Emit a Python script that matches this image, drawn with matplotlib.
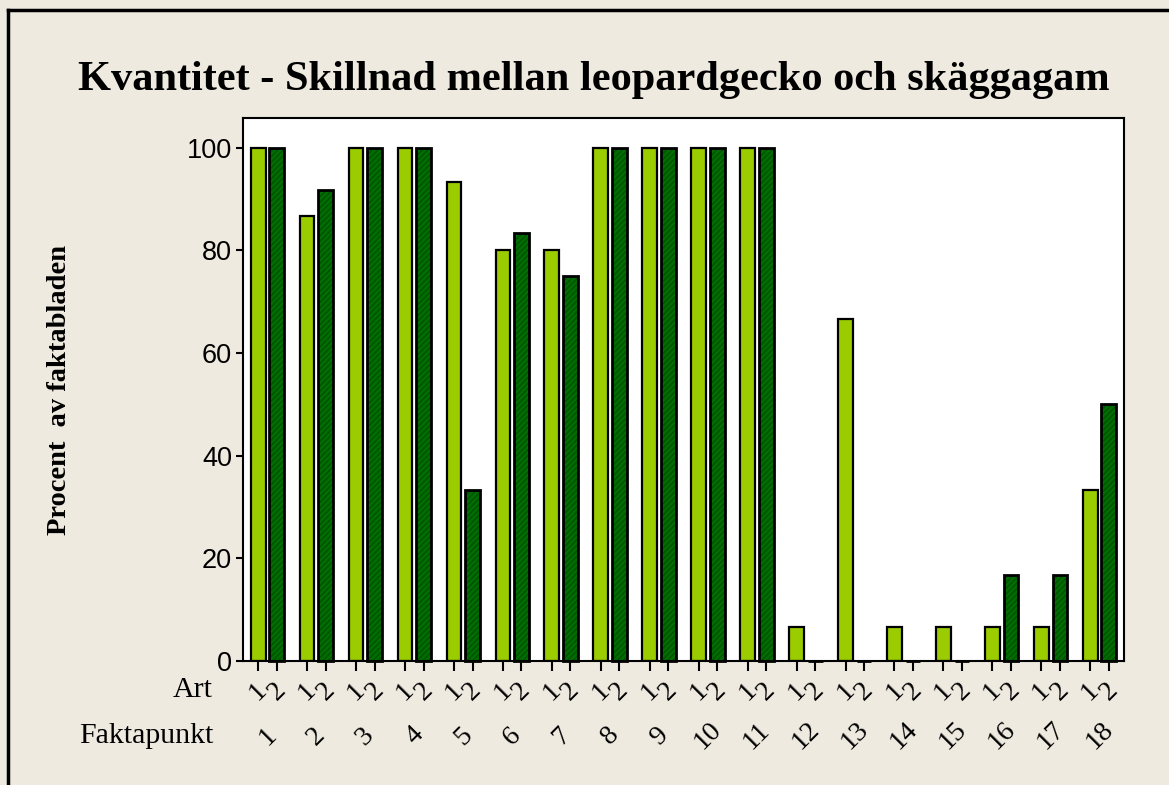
import numpy as np
import matplotlib.pyplot as plt
from matplotlib.lines import Line2D
from matplotlib.transforms import blended_transform_factory

# data
faktapunkt = [str(i) for i in range(1, 19)]
art_labels = ['1', '2']
leopardgecko = [100, 86.7, 100, 100, 93.3, 80, 80, 100, 100, 100, 100, 6.7, 66.7, 6.7, 6.7, 6.7, 6.7, 33.3]
skaggagam = [100, 91.7, 100, 100, 33.3, 83.3, 75, 100, 100, 100, 100, 0, 0, 0, 0, 16.7, 16.7, 50]

W, H = 1169, 785
bg = '#EEEAE0'
light = '#9ACC00'
dark = '#006E00'
serif = ['Liberation Serif', 'DejaVu Serif']
sans = ['Liberation Sans', 'DejaVu Sans']

fig = plt.figure(figsize=(W / 100, H / 100), dpi=100, facecolor=bg)

# plot area in pixel coords
left, right, top, bottom = 243, 1124, 118, 661
ax = fig.add_axes([left / W, 1 - bottom / H, (right - left) / W, (bottom - top) / H])
ax.set_facecolor('white')

x = np.arange(1, len(faktapunkt) + 1)
off = 0.19
bw = 0.3

ax.bar(x - off, leopardgecko, width=bw, color=light, edgecolor='black', linewidth=1.6, zorder=2)
# dark bars with fine texture, then outline (zero bars show as a thick line on the axis)
ax.bar(x + off, skaggagam, width=bw, color=dark, edgecolor='#005200', hatch='//////', linewidth=0, zorder=2)
ax.bar(x + off, skaggagam, width=bw, color='none', edgecolor='black', linewidth=2.0, zorder=3, clip_on=False)

ax.set_xlim(0.5, 18.5)
ax.set_ylim(0, 105.8)

ax.set_yticks([0, 20, 40, 60, 80, 100])
ax.set_yticklabels(['0', '20', '40', '60', '80', '100'], family=sans, fontsize=19.5)
ax.tick_params(axis='y', direction='out', length=5, width=1.5, pad=3)

ticks = np.sort(np.concatenate([x - off, x + off]))
ax.set_xticks(ticks)
ax.set_xticklabels([])
ax.tick_params(axis='x', direction='out', length=7, width=1.5)

for sp in ax.spines.values():
    sp.set_linewidth(1.5)
    sp.set_color('black')


def px_y(py):
    return 1 - py / H


# Art labels (1/2 under each bar) and Faktapunkt numbers
bt = blended_transform_factory(ax.transData, fig.transFigure)
for xi in x:
    for k, lab in enumerate(art_labels):
        xp = xi - off if k == 0 else xi + off
        ax.text(xp, px_y(691), lab, transform=bt, rotation=45, ha='center', va='center',
                rotation_mode='anchor', family=serif, fontsize=20)
    ax.text(xi, px_y(736), faktapunkt[xi - 1], transform=bt, rotation=45, ha='center', va='center',
            rotation_mode='anchor', family=serif, fontsize=20)

fig.text(213 / W, px_y(690), 'Art', ha='right', va='center', family=serif, fontsize=21.5)
fig.text(213 / W, px_y(736), 'Faktapunkt', ha='right', va='center', family=serif, fontsize=21.5)

fig.text(594 / W, px_y(80), 'Kvantitet - Skillnad mellan leopardgecko och skäggagam',
         ha='center', va='center', family=serif, fontweight='bold', fontsize=30.5)
fig.text(60 / W, px_y(390), 'Procent  av faktabladen', ha='center', va='center', rotation=90,
         family=serif, fontweight='bold', fontsize=20.5)

# outer frame (left and top edges)
fig.add_artist(Line2D([8 / W, 8 / W], [0, px_y(10)], color='black', linewidth=2.5))
fig.add_artist(Line2D([8 / W, 1], [px_y(10), px_y(10)], color='black', linewidth=2.5))

fig.savefig('out.png', dpi=100, facecolor=bg)
